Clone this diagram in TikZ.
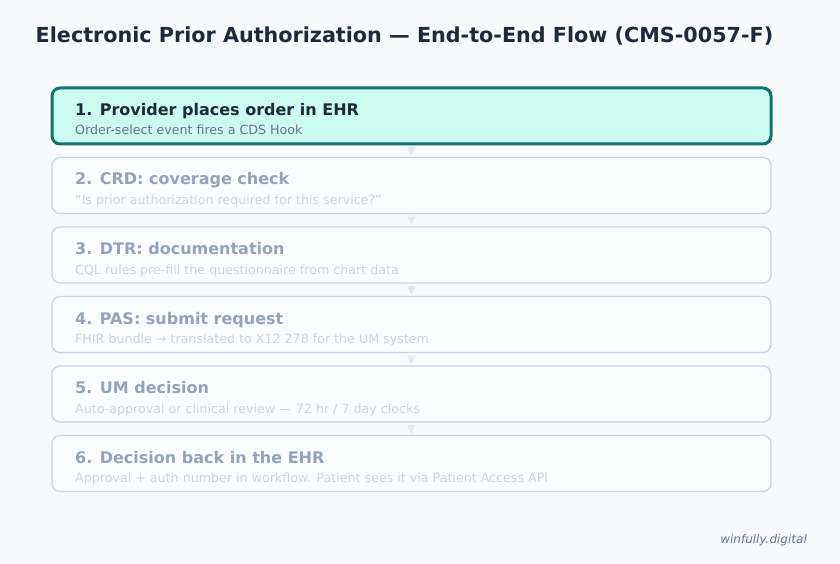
\documentclass[tikz,border=0pt]{standalone}
\usepackage{fontspec}
\setmainfont{DejaVu Sans}
\usetikzlibrary{positioning,arrows.meta}

\definecolor{pagebg}{HTML}{F8FAFC}
\definecolor{inkdark}{HTML}{1E293B}
\definecolor{inkmid}{HTML}{64748B}
\definecolor{inkfade}{HTML}{94A3B8}
\definecolor{inklight}{HTML}{CBD5E1}
\definecolor{tealedge}{HTML}{0F766E}
\definecolor{tealfill}{HTML}{CCFBF1}
\definecolor{idlefill}{HTML}{FCFDFE}
\definecolor{flowgray}{HTML}{E2E8F0}

\tikzset{
  stage/.style={rectangle, rounded corners=8pt, minimum width=719pt, minimum height=56pt,
    draw=inklight, line width=1.3pt, fill=idlefill, inner sep=0pt, outer sep=0pt},
  current/.style={stage, draw=tealedge, line width=3pt, fill=tealfill},
  head/.style={anchor=base west, inner sep=0pt, font=\fontsize{16}{19}\selectfont\bfseries, text=inkfade},
  sub/.style={anchor=base west, inner sep=0pt, font=\fontsize{12.65}{15}\selectfont, text=inklight},
  flow/.style={-{Triangle[length=8.5pt,width=8.5pt]}, draw=flowgray, fill=flowgray, line width=0.1pt,
    shorten <=2pt, shorten >=2pt}
}

\begin{document}
\begin{tikzpicture}[x=1pt,y=-1pt]

  \fill[pagebg] (0,0) rectangle (840,564);
  \useasboundingbox (0,0) rectangle (840,564);

  \node[font=\fontsize{20.7}{24}\selectfont\bfseries, text=inkdark] (title) at (404.5,36.5)
    {Electronic Prior Authorization — End-to-End Flow (CMS-0057-F)};

  % the six stages
  \node[current, anchor=north west] (s1) at (52,88) {};
  \node[stage, below=13.5pt of s1] (s2) {};
  \node[stage, below=13.5pt of s2] (s3) {};
  \node[stage, below=13.5pt of s3] (s4) {};
  \node[stage, below=13.5pt of s4] (s5) {};
  \node[stage, below=13.5pt of s5] (s6) {};

  \node[head, text=inkdark] (h1) at ([xshift=23pt,yshift=-27.5pt]s1.north west) {1. Provider places order in EHR};
  \node[sub, text=inkmid] (d1) at ([xshift=23pt,yshift=-47pt]s1.north west) {Order-select event fires a CDS Hook};

  \node[head] (h2) at ([xshift=23pt,yshift=-27.5pt]s2.north west) {2. CRD: coverage check};
  \node[sub] (d2) at ([xshift=23pt,yshift=-47pt]s2.north west) {“Is prior authorization required for this service?”};

  \node[head] (h3) at ([xshift=23pt,yshift=-27.5pt]s3.north west) {3. DTR: documentation};
  \node[sub] (d3) at ([xshift=23pt,yshift=-47pt]s3.north west) {CQL rules pre-fill the questionnaire from chart data};

  \node[head] (h4) at ([xshift=23pt,yshift=-27.5pt]s4.north west) {4. PAS: submit request};
  \node[sub] (d4) at ([xshift=23pt,yshift=-47pt]s4.north west) {FHIR bundle → translated to X12 278 for the UM system};

  \node[head] (h5) at ([xshift=23pt,yshift=-27.5pt]s5.north west) {5. UM decision};
  \node[sub] (d5) at ([xshift=23pt,yshift=-47pt]s5.north west) {Auto-approval or clinical review — 72 hr / 7 day clocks};

  \node[head] (h6) at ([xshift=23pt,yshift=-27.5pt]s6.north west) {6. Decision back in the EHR};
  \node[sub] (d6) at ([xshift=23pt,yshift=-47pt]s6.north west) {Approval + auth number in workflow. Patient sees it via Patient Access API};

  % connectors
  \foreach \a/\b in {s1/s2,s2/s3,s3/s4,s4/s5,s5/s6}
    \draw[flow] (\a.south) -- (\b.north);

  \node[anchor=base east, inner sep=0pt, font=\fontsize{12}{14}\selectfont\itshape, text=inkmid] (mark) at (807,543) {winfully.digital};

\end{tikzpicture}
\end{document}
